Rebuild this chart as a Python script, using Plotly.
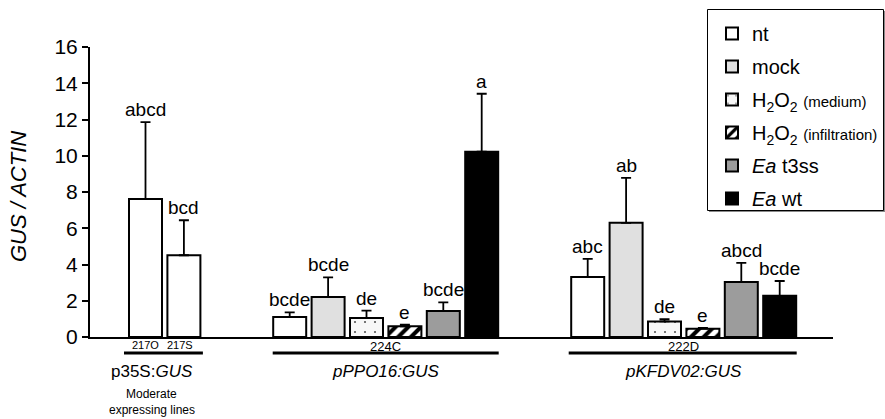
import plotly.graph_objects as go

# ---------------- data ----------------
series = ["nt", "mock", "H2O2 (medium)", "H2O2 (infiltration)", "Ea t3ss", "Ea wt"]
series_labels = [
    "nt",
    "mock",
    "H<sub>2</sub>O<sub>2</sub> <span style='font-size:15px'>(medium)</span>",
    "H<sub>2</sub>O<sub>2</sub> <span style='font-size:15px'>(infiltration)</span>",
    "<i>Ea</i> t3ss",
    "<i>Ea</i> wt",
]

lines_35s = ["217O", "217S"]
vals_35s = [7.62, 4.51]
errtop_35s = [11.86, 6.44]
letters_35s = ["abcd", "bcd"]

vals_ppo16 = [1.10, 2.21, 1.05, 0.59, 1.44, 10.22]
errtop_ppo16 = [1.36, 3.29, 1.45, 0.68, 1.91, 13.42]
letters_ppo16 = ["bcde", "bcde", "de", "e", "bcde", "a"]

vals_kfdv02 = [3.31, 6.30, 0.86, 0.46, 3.04, 2.27]
errtop_kfdv02 = [4.31, 8.78, 0.99, 0.50, 4.09, 3.09]
letters_kfdv02 = ["abc", "ab", "de", "e", "abcd", "bcde"]

line_ppo16 = "224C"
line_kfdv02 = "222D"
construct_labels = ["p35S:<i>GUS</i>", "<i>pPPO16:GUS</i>", "<i>pKFDV02:GUS</i>"]

y_ticks = [0, 2, 4, 6, 8, 10, 12, 14, 16]

# ---------------- layout constants (pixel-like x units) ----------------
PITCH = 38.4
BW = 33
START_35S = 55.5
START_PPO = 199.7
START_KFD = 497.7
FONT = "Liberation Sans, Arial, sans-serif"

styles = [
    dict(color="white"),
    dict(color="#e0e0e0"),
    dict(color="#f7f7f7", pattern=dict(shape=".", fgcolor="#555555", bgcolor="#f7f7f7",
                                       size=10, solidity=0.035, fillmode="replace")),
    dict(color="white", pattern=dict(shape="/", fgcolor="black", bgcolor="white",
                                     size=9, solidity=0.45, fillmode="replace")),
    dict(color="#9c9c9c"),
    dict(color="black"),
]

fig = go.Figure()
annotations = []

def add_letters(xs, tops, letters):
    for x, t, l in zip(xs, tops, letters):
        annotations.append(dict(x=x, y=t, xref="x", yref="y", text=l, showarrow=False,
                                yanchor="bottom", yshift=0,
                                font=dict(family=FONT, size=19, color="black")))

for i, name in enumerate(series):
    xs, ys, tops = [], [], []
    if i == 0:
        xs += [START_35S + k * PITCH for k in range(len(lines_35s))]
        ys += vals_35s
        tops += errtop_35s
    xs += [START_PPO + i * PITCH, START_KFD + i * PITCH]
    ys += [vals_ppo16[i], vals_kfdv02[i]]
    tops += [errtop_ppo16[i], errtop_kfdv02[i]]
    errs = [t - v for t, v in zip(tops, ys)]
    m = dict(styles[i])
    m["line"] = dict(color="black", width=2)
    fig.add_trace(go.Bar(
        x=xs, y=ys, width=BW, name=series_labels[i], marker=m,
        legendgroup=name,
        error_y=dict(type="data", array=errs, arrayminus=[0] * len(errs), symmetric=False,
                     color="black", thickness=1.8, width=5),
    ))
    if i == 0:
        add_letters(xs[:2], errtop_35s, letters_35s)
    add_letters([START_PPO + i * PITCH], [errtop_ppo16[i]], [letters_ppo16[i]])
    add_letters([START_KFD + i * PITCH], [errtop_kfdv02[i]], [letters_kfdv02[i]])

H = 290.0
def py(ypx):
    return (337.0 - ypx) / H
def px(xpx):
    return (xpx - 90.0) / 743.0

# line labels under axis
for k, l in enumerate(lines_35s):
    annotations.append(dict(x=START_35S + k * PITCH - 4 * k, y=py(345), xref="x", yref="paper",
                            text=l, showarrow=False, yanchor="middle",
                            font=dict(family=FONT, size=11, color="black")))
annotations.append(dict(x=START_PPO + 2.5 * PITCH, y=py(346), xref="x", yref="paper",
                        text=line_ppo16, showarrow=False, yanchor="middle",
                        font=dict(family=FONT, size=13, color="black")))
annotations.append(dict(x=START_KFD + 2.5 * PITCH, y=py(346), xref="x", yref="paper",
                        text=line_kfdv02, showarrow=False, yanchor="middle",
                        font=dict(family=FONT, size=13, color="black")))

# construct labels
cx = [START_35S + 0.5 * PITCH - 13, START_PPO + 2.5 * PITCH, START_KFD + 2.5 * PITCH]
for x, t in zip(cx, construct_labels):
    annotations.append(dict(x=x, y=py(371), xref="x", yref="paper", text=t, showarrow=False,
                            yanchor="middle", font=dict(family=FONT, size=17, color="black")))
annotations.append(dict(x=cx[0], y=py(394), xref="x", yref="paper", text="Moderate",
                        showarrow=False, yanchor="middle", font=dict(family=FONT, size=12, color="black")))
annotations.append(dict(x=cx[0], y=py(410), xref="x", yref="paper", text="expressing lines",
                        showarrow=False, yanchor="middle", font=dict(family=FONT, size=12, color="black")))

# y title
annotations.append(dict(x=px(19), y=py(197), xref="paper", yref="paper",
                        text="<i>GUS / ACTIN</i>", textangle=-90, showarrow=False,
                        xanchor="center", yanchor="middle",
                        font=dict(family=FONT, size=22, color="black")))

# group underlines
shapes = []
for x0, x1 in [(START_35S - 21.5, START_35S + PITCH + 19), (START_PPO - 17, START_PPO + 5 * PITCH + 17),
               (START_KFD - 19, START_KFD + 5 * PITCH + 17)]:
    shapes.append(dict(type="line", xref="x", yref="paper", x0=x0, x1=x1, y0=py(353), y1=py(353),
                       line=dict(color="black", width=3)))
# legend box (with a soft shadow on the right / bottom)
shapes.append(dict(type="rect", xref="paper", yref="paper", x0=px(709), x1=px(885),
                   y0=py(212), y1=py(11), fillcolor="#8a8a8a", line=dict(width=0)))
shapes.append(dict(type="rect", xref="paper", yref="paper", x0=px(707.5), x1=px(883.5),
                   y0=py(210.5), y1=py(9.5), fillcolor="white", line=dict(color="black", width=1)))

fig.update_layout(
    width=885, height=419,
    margin=dict(l=90, r=52, t=47, b=82, autoexpand=False),
    plot_bgcolor="white", paper_bgcolor="white",
    barmode="overlay",
    showlegend=True,
    legend=dict(x=px(712), y=py(14), xanchor="left", yanchor="top",
                borderwidth=0, bgcolor="rgba(0,0,0,0)",
                font=dict(family=FONT, size=20, color="black"),
                tracegroupgap=4, itemwidth=30),
    xaxis=dict(range=[0, 743], showline=True, linecolor="black", linewidth=2,
               showticklabels=False, ticks="", showgrid=False, zeroline=False, fixedrange=True),
    yaxis=dict(range=[0, 16], tickvals=y_ticks, ticktext=[str(v) for v in y_ticks],
               showline=True, linecolor="black", linewidth=2, ticks="outside", ticklen=6,
               tickwidth=2, tickcolor="black", showgrid=False, zeroline=False,
               tickfont=dict(family=FONT, size=21, color="black")),
    annotations=annotations,
    shapes=shapes,
)

fig.write_html("out.html", post_script="document.body.style.margin='0';",
               config={"displayModeBar": False})
